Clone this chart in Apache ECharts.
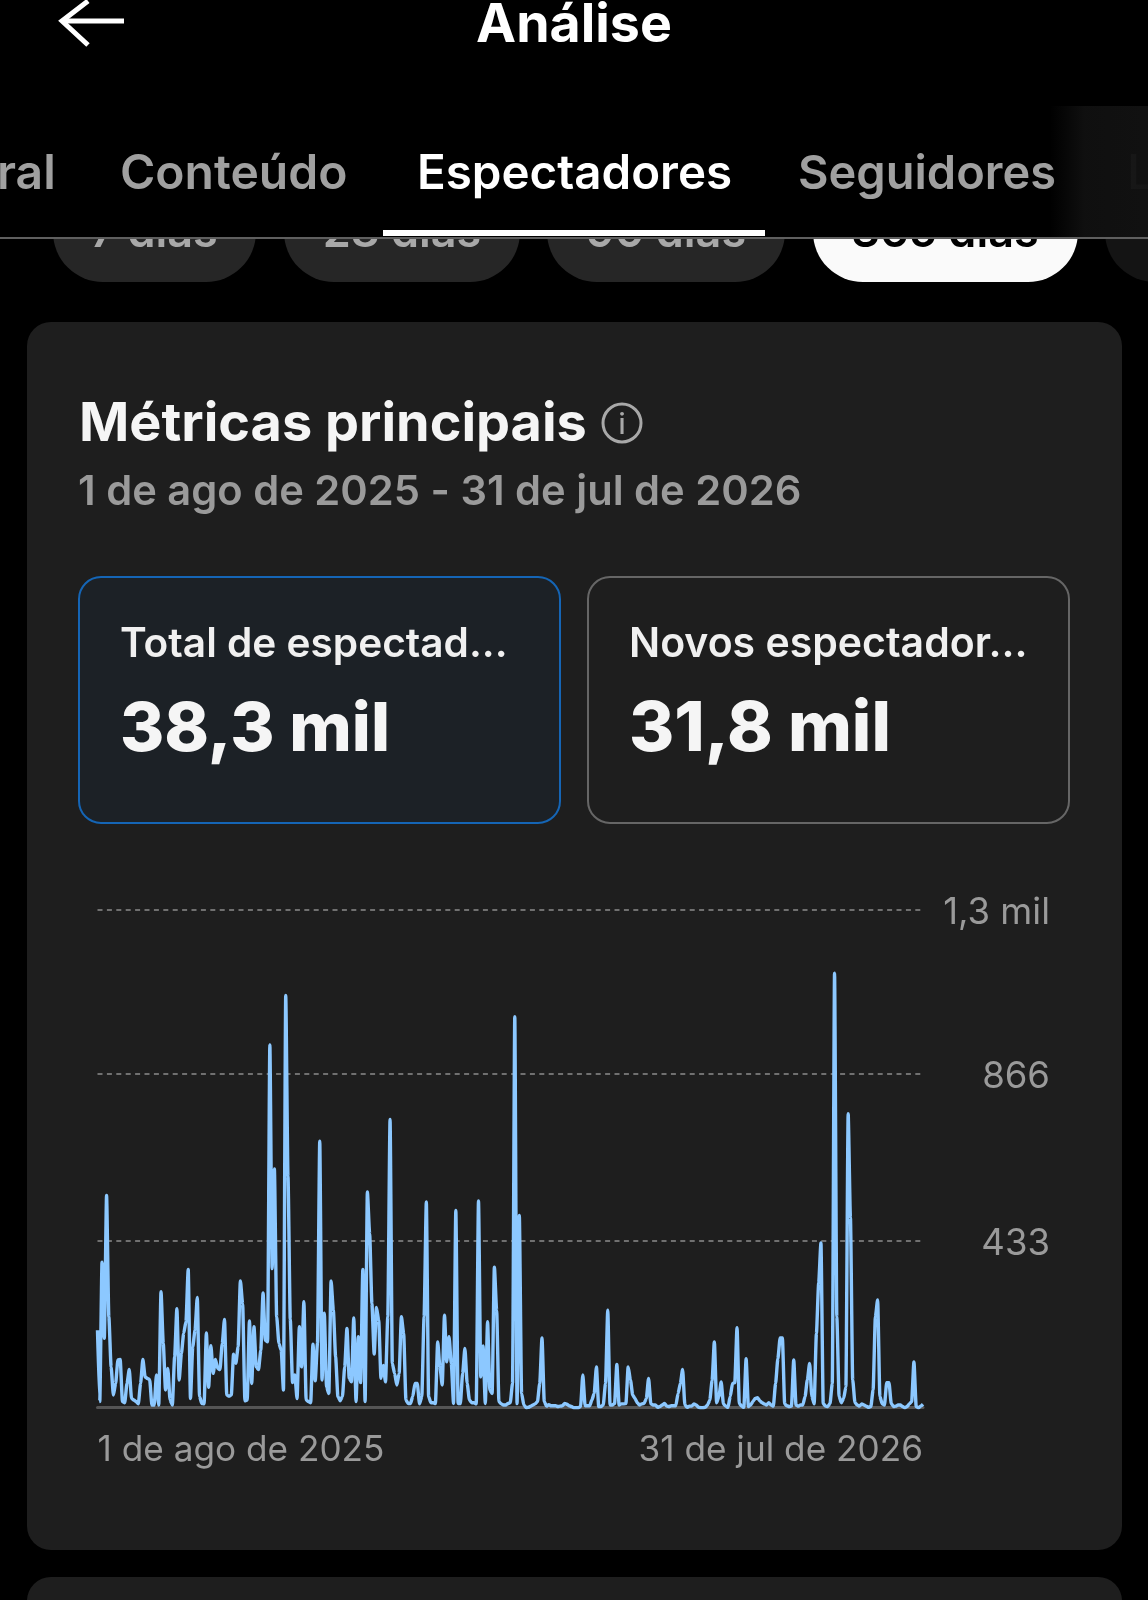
<!DOCTYPE html>
<html><head><meta charset="utf-8">
<style>html,body{margin:0;padding:0;background:#000}#c{width:1148px;height:1600px}</style>
<script src="https://cdn.jsdelivr.net/npm/echarts@6/dist/echarts.min.js"></script>
</head><body><div id="c"></div>
<script>
const viewers = [
201,16,378,180,551,236,106,33,63,124,125,16,13,63,99,24,20,16,10,63,
125,80,76,73,7,7,85,7,301,167,46,102,20,7,132,257,72,141,193,223,
359,24,158,201,286,29,11,10,194,53,161,89,125,102,99,167,229,33,30,33,
139,115,158,329,270,18,20,225,63,210,106,99,149,298,175,171,942,361,620,236,
167,149,46,1070,600,230,65,85,24,210,106,275,20,16,13,165,70,167,692,72,
245,54,37,329,253,132,29,18,29,106,206,76,67,233,16,184,65,359,16,560,
452,270,139,260,227,76,110,67,236,748,115,89,59,89,236,193,20,11,11,29,
63,63,10,29,236,534,29,13,13,11,171,106,59,240,119,184,115,11,512,11,
11,89,154,63,20,13,13,10,537,80,160,11,223,46,37,365,253,16,10,7,
7,11,13,63,1015,11,499,37,7,0,1,4,7,10,16,63,181,16,4,8,
5,5,5,3,4,5,11,9,5,3,0,0,0,3,85,5,5,5,20,37,
106,3,3,7,63,253,7,7,11,112,7,10,10,11,106,72,33,24,13,7,
10,11,24,76,10,7,7,1,3,7,11,4,3,5,5,5,37,63,99,7,
1,4,4,10,7,1,0,0,1,7,20,71,171,13,29,67,10,4,1,29,
63,65,208,11,4,1,127,3,7,16,24,26,18,13,10,7,13,7,4,63,
127,181,181,10,5,3,4,124,7,4,7,7,29,72,115,29,10,193,324,428,
11,4,3,11,63,1128,236,29,13,24,54,763,494,72,13,7,4,10,7,4,
1,3,46,236,280,29,10,7,65,65,11,3,4,7,7,3,0,3,10,16,
119,3,0,4,9];
const dayCategories = viewers.map((_, i) => 'd' + i);
const firstDayLabel = '1 de ago de 2025';
const lastDayLabel = '31 de jul de 2026';
const yTicks = {433:'433',866:'866',1292:'1,3 mil'};
const tabs = ['ral','Conteúdo','Espectadores','Seguidores','L'];
const pills = ['7 dias','28 dias','90 dias','365 dias'];
const periodLabel = '1 de ago de 2025 - 31 de jul de 2026';
const cardLabels = ['Total de espectad...','Novos espectador...'];
const cardValues = ['38,3 mil','31,8 mil'];

const F = 'Inter, Roboto, "Noto Sans", sans-serif';
const T = (text,x,y,size,weight,fill,align) => ({type:'text',style:{text,x,y:y-0.8*size,fill,font:`${weight} ${size}px ${F}`,textAlign:align||'left'}});
const R = (x,y,w,h,r,fill,stroke,lw) => ({type:'rect',shape:{x,y,width:w,height:h,r},style:{fill,stroke:stroke||null,lineWidth:lw||0}});

const elements = [
  R(53,150,203,132,50,'#262626'),
  R(284,150,236,132,50,'#262626'),
  R(547,150,238,132,50,'#262626'),
  R(813,150,265,132,50,'#fafafa'),
  R(1105,150,120,132,50,'#141414'),
  T(pills[0],154,247,45,600,'#a8a8a8','center'),
  T(pills[1],402,247,45,600,'#a8a8a8','center'),
  T(pills[2],666,247,45,600,'#a8a8a8','center'),
  T(pills[3],945,247,45,600,'#000000','center'),
  R(0,0,1148,238,0,'#000000'),
  {type:'polyline',shape:{points:[[88,1],[62,21],[88,45]]},style:{stroke:'#fff',lineWidth:5,fill:null}},
  {type:'line',shape:{x1:62,y1:21,x2:124,y2:21},style:{stroke:'#fff',lineWidth:5}},
  T('Análise',574,42,53.7,700,'#ffffff','center'),
  T(tabs[0],-3,189,48,600,'#a0a0a0'),
  T(tabs[1],120,189,48,600,'#a0a0a0'),
  T(tabs[2],417,189,47.5,600,'#ffffff'),
  T(tabs[3],798,189,47,600,'#a0a0a0'),
  T(tabs[4],1127,189,48,500,'#555555'),
  {type:'rect',shape:{x:1050,y:106,width:98,height:132},style:{fill:{type:'linear',x:0,y:0,x2:1,y2:0,colorStops:[{offset:0,color:'rgba(18,18,18,0)'},{offset:0.35,color:'rgba(18,18,18,0.85)'},{offset:1,color:'rgba(18,18,18,0.95)'}]}}},
  R(383,230,382,6,0,'#ffffff'),
  R(0,237,1148,2,0,'#5f5f5f'),
  R(27,322,1095,1228,24,'#1e1e1e'),
  R(27,1577,1095,100,24,'#1e1e1e'),
  T('Métricas principais',79,441,54,700,'#f5f5f5'),
  {type:'circle',shape:{cx:622,cy:423,r:19},style:{fill:null,stroke:'#a8a8a8',lineWidth:3}},
  T('i',622,434,28,500,'#a8a8a8','center'),
  T(periodLabel,78,505,41.7,600,'#9a9a9a'),
  R(79,577,481,246,22,'#1c2126','#1565b5',2),
  R(588,577,481,246,22,'#1e1e1e','#666666',2),
  T(cardLabels[0],120,657,40.6,600,'#f0f0f0'),
  T(cardLabels[1],629,657,41,600,'#f0f0f0'),
  T(cardValues[0],120,751,67.5,800,'#f5f5f5'),
  T(cardValues[1],629,751,69,800,'#f5f5f5')
];

const chart = echarts.init(document.getElementById('c'), null, {width:1148,height:1600});
chart.setOption({
  backgroundColor:'#000000',
  animation:false,
  graphic:{elements},
  grid:{left:97.5,right:225,top:910,height:497.7,containLabel:false},
  xAxis:{
    type:'category',data:dayCategories,boundaryGap:false,z:2,
    axisLine:{lineStyle:{color:'#555555',width:3}},axisTick:{show:false},
    axisLabel:{
      interval:i=>i===0||i===viewers.length-1,
      formatter:(v,i)=>i===0?firstDayLabel:lastDayLabel,
      alignMinLabel:'left',alignMaxLabel:'right',
      color:'#9a9a9a',fontSize:35.2,fontFamily:F,margin:25,showMinLabel:true,showMaxLabel:true,hideOverlap:false
    }
  },
  yAxis:{
    type:'value',position:'right',min:0,max:1292,interval:433,z:2,
    axisLine:{show:false},axisTick:{show:false},
    splitLine:{showMinLine:false,lineStyle:{color:'#707070',type:[5,4.4],width:2}},
    axisLabel:{
      formatter:v=>yTicks[v]?'{t|'+yTicks[v]+'}':'',
      align:'right',margin:127,
      rich:{t:{color:'#9a9a9a',fontSize:36.5,fontFamily:F,padding:[6,0,0,0]}}
    }
  },
  series:[{
    type:'line',data:viewers,z:3,showSymbol:false,smooth:0.2,smoothMonotone:'x',
    lineStyle:{color:'#8cc8ff',width:3.4,join:'bevel'},itemStyle:{color:'#8cc8ff'}
  }]
});
</script></body></html>
